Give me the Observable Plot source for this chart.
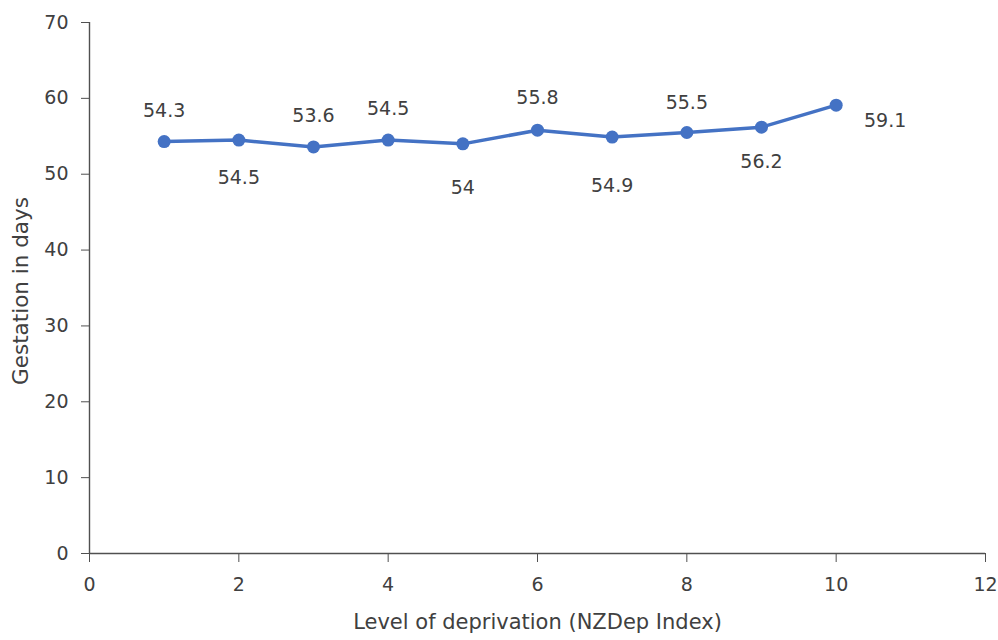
<!DOCTYPE html>
<html><head><meta charset="utf-8">
<script src="https://cdn.jsdelivr.net/npm/d3@7"></script>
<script src="https://cdn.jsdelivr.net/npm/@observablehq/plot@0.6"></script>
<style>body{margin:0;background:#fff;}</style>
</head><body><div id="chart"></div>
<script>
const levels = [1, 2, 3, 4, 5, 6, 7, 8, 9, 10];
const gestation = [54.3, 54.5, 53.6, 54.5, 54, 55.8, 54.9, 55.5, 56.2, 59.1];
const xTicks = [0, 2, 4, 6, 8, 10, 12];
const yTicks = [0, 10, 20, 30, 40, 50, 60, 70];
const xTitle = "Level of deprivation (NZDep Index)";
const yTitle = "Gestation in days";
// label placement offsets (layout only)
const labelDx = [0, 0, 0, 0, 0, 0, 0, 0, 0, 49];
const labelDy = [-31, 38, -31, -31, 44, -32, 49, -30, 35, 16];

const data = levels.map((l, i) => ({level: l, value: gestation[i]}));
const textColor = "#404040";
const axisColor = "#505050";
const blue = "#4472C4";

const labelMarks = data.map((d, i) => Plot.text([d], {
  x: "level", y: "value", text: d => String(d.value),
  dx: labelDx[i], dy: labelDy[i], fill: textColor, lineAnchor: "middle", fontSize: 19
}));

const chart = Plot.plot({
  width: 998, height: 640,
  marginLeft: 89, marginRight: 13, marginTop: 22, marginBottom: 87,
  style: {fontFamily: "'DejaVu Sans', sans-serif", fontSize: "19px", color: textColor, background: "#fff"},
  x: {domain: [0, 12]},
  y: {domain: [0, 70]},
  marks: [
    Plot.axisY({ticks: yTicks, tickSize: 8, tickPadding: 13, label: null, stroke: axisColor, fontSize: 19, tickFormat: d => String(d)}),
    Plot.axisX({ticks: xTicks, tickSize: 9, tickPadding: 15, label: null, stroke: axisColor, fontSize: 19, tickFormat: d => String(d)}),
    Plot.ruleY([0], {stroke: axisColor, strokeWidth: 1.4}),
    Plot.ruleX([0], {stroke: axisColor, strokeWidth: 1.4}),
    Plot.line(data, {x: "level", y: "value", stroke: blue, strokeWidth: 3.5}),
    Plot.dot(data, {x: "level", y: "value", r: 6.5, fill: blue, stroke: null}),
    ...labelMarks,
    Plot.text([yTitle], {frameAnchor: "left", rotate: -90, dx: -68, dy: 3, fill: textColor, lineAnchor: "middle", textAnchor: "middle", fontSize: 21.5}),
    Plot.text([xTitle], {frameAnchor: "bottom", dy: 69, fill: textColor, lineAnchor: "middle", textAnchor: "middle", fontSize: 21}),
  ]
});
document.getElementById("chart").appendChild(chart);
</script>
</body></html>
